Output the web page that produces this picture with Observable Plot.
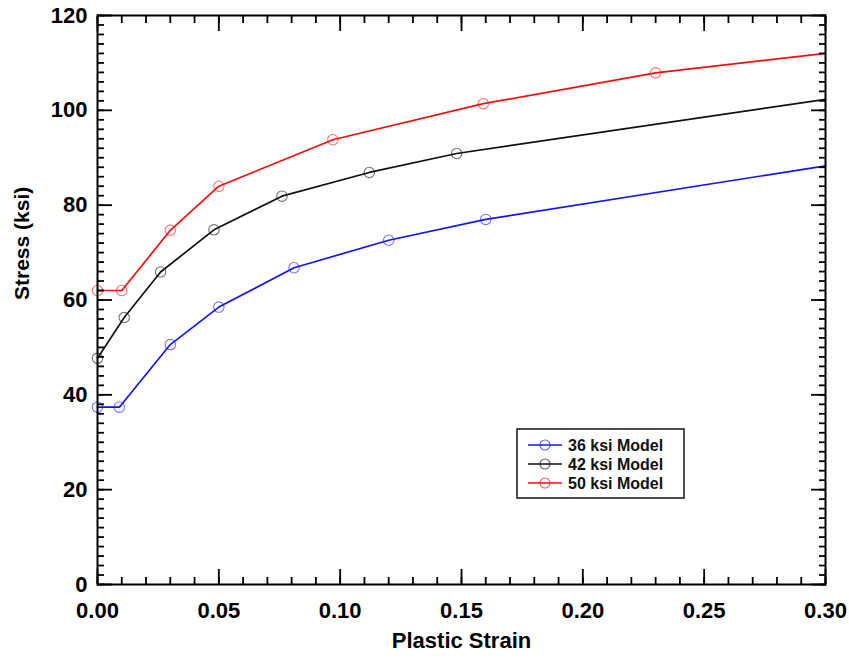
<!DOCTYPE html>
<html><head><meta charset="utf-8">
<script src="https://cdn.jsdelivr.net/npm/d3@7"></script>
<script src="https://cdn.jsdelivr.net/npm/@observablehq/plot@0.6"></script>
<style>
html,body{margin:0;padding:0;background:#fff;}
#chart{position:relative;width:849px;height:660px;font-family:"Liberation Sans",Arial,sans-serif;}
#legend{position:absolute;left:516px;top:428px;}
</style></head><body><div id="chart"></div>
<script>
// Data
const seriesNames = ["36 ksi Model", "42 ksi Model", "50 ksi Model"];
const seriesColors = ["#1515f0", "#111111", "#f01010"];

const strain36 = [0, 0.009, 0.03, 0.05, 0.081, 0.12, 0.16, 0.30];
const stress36 = [37.4, 37.4, 50.6, 58.5, 66.8, 72.6, 77.0, 88.3];

const strain42 = [0, 0.011, 0.026, 0.048, 0.076, 0.112, 0.148, 0.30];
const stress42 = [47.7, 56.3, 65.9, 74.8, 81.9, 86.9, 90.9, 102.3];

const strain50 = [0, 0.01, 0.03, 0.05, 0.097, 0.159, 0.23, 0.30];
const stress50 = [62.0, 62.0, 74.7, 84.0, 93.8, 101.4, 107.9, 112.0];

const xTicks = [0, 0.05, 0.10, 0.15, 0.20, 0.25, 0.30];
const yTicks = [0, 20, 40, 60, 80, 100, 120];
const xMinor = d3.range(0, 31).map(i => i / 100);
const yMinor = d3.range(0, 61).map(i => i * 2);

const strains = [strain36, strain42, strain50];
const stresses = [stress36, stress42, stress50];
const rows = seriesNames.flatMap((name, s) =>
  strains[s].map((x, i) => ({name, x, y: stresses[s][i], marked: i < strains[s].length - 1})));

const font = "Liberation Sans, Arial, sans-serif";
const plot = Plot.plot({
  width: 849, height: 660,
  marginLeft: 97, marginRight: 24, marginTop: 15, marginBottom: 76,
  style: {fontFamily: font, fontSize: "22px", fontWeight: "bold", color: "#000", background: "#fff"},
  x: {domain: [0, 0.3], label: null},
  y: {domain: [0, 120], label: null},
  color: {domain: seriesNames, range: seriesColors},
  marks: [
    Plot.line(rows, {x: "x", y: "y", z: "name", stroke: "name", strokeWidth: 1.7}),
    Plot.dot(rows.filter(d => d.marked), {x: "x", y: "y", stroke: "name", r: 5.2, strokeWidth: 1.1, strokeOpacity: 0.6}),
    Plot.axisX(xMinor, {anchor: "bottom", tickSize: -7, tickFormat: () => "", strokeWidth: 1.8, label: null}),
    Plot.axisX(xTicks, {anchor: "bottom", tickSize: -15, tickFormat: () => "", strokeWidth: 1.8, label: null}),
    Plot.axisX(xMinor, {anchor: "top", tickSize: -7, tickFormat: () => "", strokeWidth: 1.8, label: null}),
    Plot.axisX(xTicks, {anchor: "top", tickSize: -15, tickFormat: () => "", strokeWidth: 1.8, label: null}),
    Plot.axisY(yMinor, {anchor: "left", tickSize: -7, tickFormat: () => "", strokeWidth: 1.8, label: null}),
    Plot.axisY(yTicks, {anchor: "left", tickSize: -15, tickFormat: () => "", strokeWidth: 1.8, label: null}),
    Plot.axisY(yMinor, {anchor: "right", tickSize: -7, tickFormat: () => "", strokeWidth: 1.8, label: null}),
    Plot.axisY(yTicks, {anchor: "right", tickSize: -15, tickFormat: () => "", strokeWidth: 1.8, label: null}),
    Plot.axisX(xTicks, {anchor: "bottom", tickSize: 0, tickPadding: 18, tickFormat: d3.format(".2f"), label: null}),
    Plot.axisY(yTicks, {anchor: "left", tickSize: 0, tickPadding: 10, tickFormat: d => String(d), label: null}),
    Plot.frame({stroke: "#000", strokeWidth: 2}),
    Plot.text(["Plastic Strain"], {frameAnchor: "bottom", dy: 63, text: d => d, fontSize: 22, fontWeight: "bold"}),
    Plot.text(["Stress (ksi)"], {frameAnchor: "left", dx: -75, rotate: -90, text: d => d, fontSize: 21, fontWeight: "bold"})
  ]
});
const chart = document.getElementById("chart");
chart.appendChild(plot);

// Legend (drawn as an overlay, like the boxed legend in the reference)
const lg = d3.select(chart).append("svg").attr("id", "legend")
  .attr("width", 170).attr("height", 72);
lg.append("rect").attr("x", 1).attr("y", 1).attr("width", 167).attr("height", 69)
  .attr("fill", "#fff").attr("stroke", "#222").attr("stroke-width", 1.6);
seriesNames.forEach((name, i) => {
  const cy = 17 + i * 19;
  lg.append("line").attr("x1", 12).attr("x2", 46).attr("y1", cy).attr("y2", cy)
    .attr("stroke", seriesColors[i]).attr("stroke-width", 1.7);
  lg.append("circle").attr("cx", 29).attr("cy", cy).attr("r", 5).attr("fill", "none")
    .attr("stroke", seriesColors[i]).attr("stroke-width", 1.1).attr("stroke-opacity", 0.7);
  lg.append("text").attr("x", 52).attr("y", cy).attr("dy", "0.36em")
    .attr("font-family", font).attr("font-weight", "bold").attr("font-size", 16)
    .attr("fill", "#111").text(name);
});
</script></body></html>
